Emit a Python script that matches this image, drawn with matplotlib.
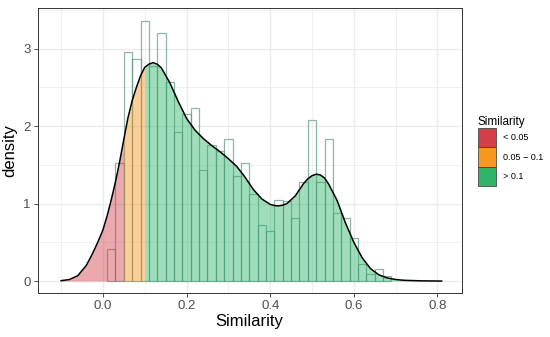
import numpy as np
import matplotlib
matplotlib.use('Agg')
import matplotlib.pyplot as plt
from matplotlib.patches import Patch

plt.rcParams['font.family'] = ['Liberation Sans', 'DejaVu Sans']

# histogram (binwidth 0.02)
bin_centers = [0.02, 0.04, 0.06, 0.08, 0.10, 0.12, 0.14, 0.16, 0.18, 0.20,
               0.22, 0.24, 0.26, 0.28, 0.30, 0.32, 0.34, 0.36, 0.38, 0.40,
               0.42, 0.44, 0.46, 0.48, 0.50, 0.52, 0.54, 0.56, 0.58, 0.60,
               0.62, 0.64, 0.66, 0.68]
bin_heights = [0.41, 1.53, 2.96, 2.87, 3.36, 2.78, 3.20, 2.57, 1.92, 2.16,
               2.24, 1.44, 1.76, 1.68, 1.84, 1.36, 1.52, 1.13, 0.72, 0.645,
               1.045, 1.04, 0.81, 1.28, 2.08, 1.28, 1.84, 0.88, 0.81, 0.56,
               0.22, 0.09, 0.16, 0.07]
bin_width = 0.02

# density curve
dens_x = [-0.10, -0.08, -0.06, -0.04, -0.03, -0.02, -0.01, 0.00, 0.01, 0.02,
          0.03, 0.04, 0.05, 0.06, 0.07, 0.08, 0.09, 0.10, 0.11, 0.12,
          0.13, 0.14, 0.16, 0.18, 0.20, 0.22, 0.24, 0.26, 0.28, 0.30,
          0.32, 0.34, 0.36, 0.38, 0.40, 0.41, 0.42, 0.43, 0.44, 0.46,
          0.48, 0.49, 0.50, 0.51, 0.52, 0.53, 0.54, 0.56, 0.58, 0.60,
          0.62, 0.64, 0.66, 0.68, 0.70, 0.72, 0.76, 0.81]
dens_y = [0.005, 0.02, 0.07, 0.20, 0.30, 0.41, 0.53, 0.66, 0.84, 1.05,
          1.28, 1.54, 1.83, 2.11, 2.33, 2.50, 2.65, 2.76, 2.80, 2.82,
          2.80, 2.75, 2.56, 2.32, 2.10, 1.95, 1.84, 1.75, 1.67, 1.58,
          1.48, 1.34, 1.18, 1.06, 0.99, 0.975, 0.97, 0.98, 1.00, 1.10,
          1.26, 1.32, 1.36, 1.38, 1.37, 1.33, 1.25, 1.04, 0.75, 0.50,
          0.30, 0.16, 0.08, 0.04, 0.02, 0.01, 0.003, 0.0]

groups = ['< 0.05', '0.05 \u2212 0.1', '> 0.1']
cuts = [(-1, 0.05), (0.05, 0.10), (0.10, 1)]
colors = ['#D33F49', '#F8961E', '#2FB56A']

fig = plt.figure(figsize=(5.5, 3.37), dpi=100)
ax = fig.add_axes([0.0685, 0.1315, 0.771, 0.8435])

ax.bar(bin_centers, bin_heights, width=bin_width, facecolor='none',
       edgecolor='#5f9382', linewidth=0.9, alpha=0.7, zorder=2)

x = np.array(dens_x)
y = np.array(dens_y)
for (lo, hi), c in zip(cuts, colors):
    m = (x >= lo) & (x <= hi)
    ax.fill_between(x[m], 0, y[m], color=c, alpha=0.45, linewidth=0, zorder=3)
ax.plot(x, y, color='black', linewidth=1.1, zorder=4)

ax.set_xlim(-0.156, 0.858)
ax.set_ylim(-0.15, 3.52)
ax.set_xticks([0.0, 0.2, 0.4, 0.6, 0.8])
ax.set_xticklabels(['0.0', '0.2', '0.4', '0.6', '0.8'])
ax.set_yticks([0, 1, 2, 3])
ax.set_xticks([-0.1, 0.1, 0.3, 0.5, 0.7], minor=True)
ax.set_yticks([0.5, 1.5, 2.5, 3.5], minor=True)
ax.grid(which='major', color='#EBEBEB', linewidth=1.0, zorder=0)
ax.grid(which='minor', color='#EBEBEB', linewidth=0.5, zorder=0)
ax.set_axisbelow(True)
ax.tick_params(which='major', length=3, width=0.6, color='#333333',
               labelsize=9.5, labelcolor='#4D4D4D', pad=2)
ax.tick_params(which='minor', length=0)
for s in ax.spines.values():
    s.set_color('#333333')
    s.set_linewidth(0.7)

ax.set_xlabel('Similarity', fontsize=12, labelpad=2)
ax.set_ylabel('density', fontsize=12, labelpad=4)

handles = [Patch(facecolor=c, edgecolor='#333333', linewidth=0.5) for c in colors]
leg = fig.legend(handles, groups, title='Similarity', loc='center left',
                 bbox_to_anchor=(0.869, 0.552), frameon=False, fontsize=6.5,
                 title_fontsize=8.5, handlelength=2.03, handleheight=2.91,
                 labelspacing=0, handletextpad=0.74, borderpad=0,
                 borderaxespad=0)
leg._legend_box.align = 'left'

fig.savefig('out.png', dpi=100)
